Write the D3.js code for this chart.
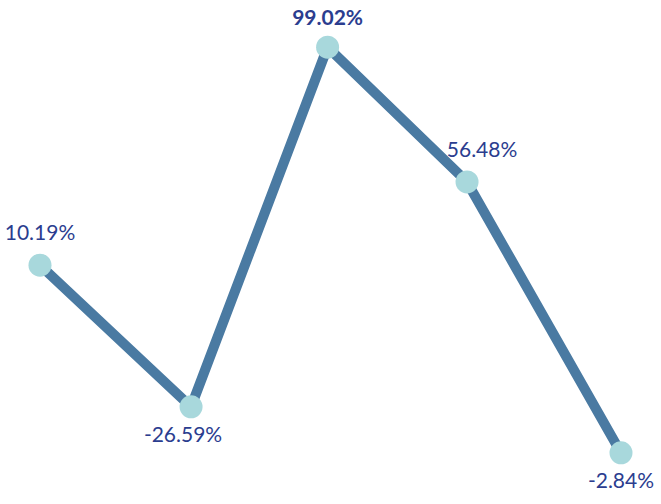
<!DOCTYPE html>
<html lang="en">
  <head>
    <meta charset="utf-8">
    <title>line</title>
    <script src="https://cdn.jsdelivr.net/npm/d3@7"></script>
    <style type="text/css">
      body { margin: 0; background: #fff; }
      .line {
        fill: none;
        stroke: #4a7aa2;
        stroke-width: 10;
        stroke-linejoin: round;
      }
      .dot { fill: #a8d8dc; }
      .label {
        font-family: Lato, "Open Sans", sans-serif;
        font-size: 21px;
        font-weight: 400;
        fill: #2b3d8f;
      }
      .label.top { font-weight: 700; }
    </style>
  </head>
  <body>
    <svg width="661" height="504"></svg>
    <script type="text/javascript">
      // positions along the axis and plotted values
      var xs = [0, 1.04, 1.98, 2.94, 4];
      var values = [46.7, 15.9, 94.1, 64.8, 5.9];
      var labels = ["10.19%", "-26.59%", "99.02%", "56.48%", "-2.84%"];
      var changes = [10.19, -26.59, 99.02, 56.48, -2.84];

      var svg = d3.select("svg"),
          width = +svg.attr("width"),
          height = +svg.attr("height");

      var x = d3.scaleLinear().domain([0, 4]).range([40, 621]);
      var y = d3.scaleLinear().domain([0, 100]).range([480, 20]);

      var pts = xs.map(function(d, i) {
        return { x: d, v: values[i], label: labels[i], c: changes[i], i: i };
      });
      var maxC = d3.max(changes);

      svg.append("path")
        .datum(pts)
        .attr("class", "line")
        .attr("d", d3.line().x(function(d) { return x(d.x); }).y(function(d) { return y(d.v); }));

      svg.selectAll(".dot")
        .data(pts)
        .enter().append("circle")
          .attr("class", "dot")
          .attr("cx", function(d) { return x(d.x); })
          .attr("cy", function(d) { return y(d.v); })
          .attr("r", 11.5);

      svg.selectAll(".label")
        .data(pts)
        .enter().append("text")
          .attr("class", function(d) { return "label" + (d.c === maxC ? " top" : ""); })
          .attr("text-anchor", "middle")
          .attr("x", function(d) {
            // nudge labels away from the incoming line
            var prev = pts[d.i - 1];
            if (d.c >= 0 && prev && prev.v > d.v) return x(d.x) + 15;
            if (d.c < 0 && prev && prev.v > d.v && pts[d.i + 1]) return x(d.x) - 8;
            return x(d.x);
          })
          .attr("y", function(d) {
            return d.c >= 0 ? y(d.v) - (d.c === maxC ? 22 : 25) : y(d.v) + 35;
          })
          .text(function(d) { return d.label; });
    </script>
  </body>
</html>
